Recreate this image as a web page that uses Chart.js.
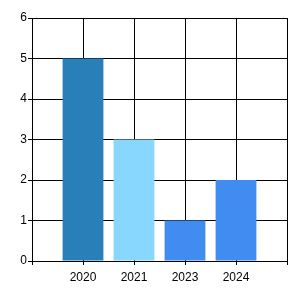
<!DOCTYPE html>
<html>
<head>
<meta charset="utf-8">
<script src="https://cdn.jsdelivr.net/npm/chart.js@4"></script>
<style>
html,body{margin:0;padding:0;background:#fff;}
#wrap{width:300px;height:300px;position:relative;}
</style>
</head>
<body>
<div id="wrap"><canvas id="c" width="300" height="300"></canvas></div>
<script>
const categories = ['2020', '2021', '2023', '2024'];
const values = [5, 3, 1, 2];
const barColors = ['#2980B9', '#87D7FF', '#418CF0', '#418CF0'];
const yTicks = [0, 1, 2, 3, 4, 5, 6];

const points = categories.map((c, i) => ({ x: i + 1, y: values[i] }));

new Chart(document.getElementById('c'), {
  type: 'bar',
  data: {
    datasets: [{
      data: points,
      backgroundColor: barColors,
      borderWidth: 0,
      barPercentage: 0.8,
      categoryPercentage: 1
    }]
  },
  options: {
    responsive: false,
    animation: false,
    devicePixelRatio: 1,
    layout: { padding: { top: 18, right: 13, left: 0, bottom: 0 } },
    plugins: { legend: { display: false }, tooltip: { enabled: false } },
    scales: {
      x: {
        type: 'linear',
        min: 0,
        max: categories.length + 1,
        offset: false,
        grid: { offset: false, color: '#000', lineWidth: 1, tickLength: 4, drawTicks: true, tickColor: '#000' },
        border: { color: '#000', width: 1 },
        ticks: {
          stepSize: 1,
          autoSkip: false,
          maxRotation: 0,
          padding: 5,
          color: '#000',
          font: { family: 'Liberation Sans', size: 12 },
          callback: v => categories[v - 1] ?? ''
        },
        afterFit: s => { s.height = 39; }
      },
      y: {
        min: yTicks[0],
        max: yTicks[yTicks.length - 1],
        grid: { color: '#000', lineWidth: 1, tickLength: 4, tickColor: '#000' },
        border: { color: '#000', width: 1 },
        ticks: {
          stepSize: 1,
          padding: 1,
          color: '#000',
          font: { family: 'Liberation Sans', size: 12 }
        },
        afterFit: s => { s.width = 32; }
      }
    }
  }
});
</script>
</body>
</html>
